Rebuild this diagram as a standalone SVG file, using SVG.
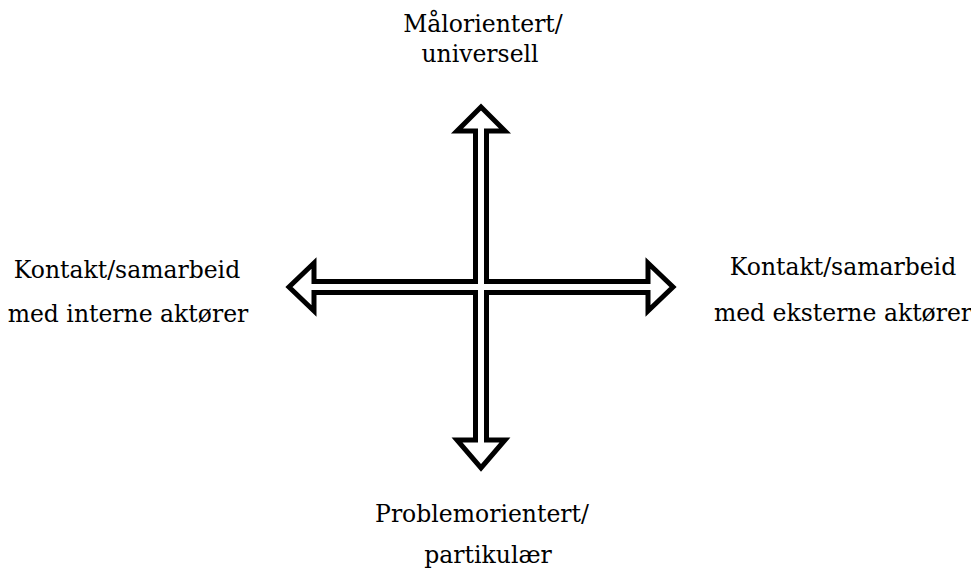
<svg xmlns="http://www.w3.org/2000/svg" width="971" height="574" viewBox="0 0 971 574">
  <style>
    .lbl { font-family: "DejaVu Serif", "Liberation Serif", serif; font-size: 23.5px; fill: #000; text-anchor: middle; }
    .cross { fill: #fff; stroke: #000; stroke-width: 5; stroke-linejoin: miter; stroke-miterlimit: 10; }
  </style>
  <rect width="971" height="574" fill="#fff"/>

  <!-- four-way hollow arrow -->
  <g id="connectors">
    <path class="cross" d="
      M481 107 L505 131 L486.5 131 L486.5 281.5
      L648 281.5 L648 263 L673 287 L648 311 L648 292.5
      L486.5 292.5 L486.5 440 L505 440 L481 468 L457 440 L475.5 440
      L475.5 292.5 L314 292.5 L314 311 L289 287 L314 263 L314 281.5
      L475.5 281.5 L475.5 131 L457 131 Z"/>
  </g>

  <g id="node-top">
    <text class="lbl" x="483" y="32">Målorientert/</text>
    <text class="lbl" x="480" y="62">universell</text>
  </g>
  <g id="node-left">
    <text class="lbl" x="127" y="278">Kontakt/samarbeid</text>
    <text class="lbl" x="128" y="322">med interne aktører</text>
  </g>
  <g id="node-right">
    <text class="lbl" x="843" y="275">Kontakt/samarbeid</text>
    <text class="lbl" x="843" y="321">med eksterne aktører</text>
  </g>
  <g id="node-bottom">
    <text class="lbl" x="482" y="522">Problemorientert/</text>
    <text class="lbl" x="488" y="563">partikulær</text>
  </g>
</svg>
